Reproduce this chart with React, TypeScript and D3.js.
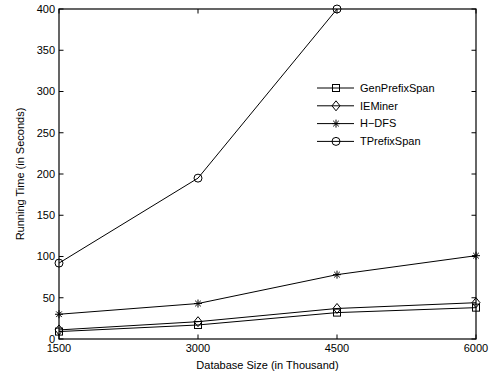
import { useRef, useEffect } from 'react'
import * as d3 from 'd3'

const sizes = [1500, 3000, 4500, 6000]
const genPrefixSpan = [9, 17, 32, 38]
const ieMiner = [11, 21, 37, 44]
const hdfs = [30, 43, 78, 101]
const tPrefixSpan = [92, 195, 400]
const yTicks = [0, 50, 100, 150, 200, 250, 300, 350, 400]

const series = [
  { name: 'GenPrefixSpan', values: genPrefixSpan, marker: 'square' },
  { name: 'IEMiner', values: ieMiner, marker: 'diamond' },
  { name: 'H\u2212DFS', values: hdfs, marker: 'star' },
  { name: 'TPrefixSpan', values: tPrefixSpan, marker: 'circle' },
]

const W = 500
const H = 379
const m = { left: 59, right: 24, top: 9, bottom: 40 }

function drawMarker(g: d3.Selection<SVGGElement, unknown, null, undefined>, kind: string, cx: number, cy: number) {
  const s = g.append('g').attr('transform', `translate(${cx},${cy})`)
    .attr('fill', 'none').attr('stroke', '#000').attr('stroke-width', 1)
  if (kind === 'square') {
    s.append('rect').attr('x', -3.5).attr('y', -3.5).attr('width', 7).attr('height', 7)
  } else if (kind === 'diamond') {
    s.append('path').attr('d', 'M0,-5L4,0L0,5L-4,0Z')
  } else if (kind === 'circle') {
    s.append('circle').attr('r', 4)
  } else {
    const r = 4
    s.append('path').attr('d', `M${-r},0L${r},0M0,${-r}L0,${r}M${-r * 0.7},${-r * 0.7}L${r * 0.7},${r * 0.7}M${-r * 0.7},${r * 0.7}L${r * 0.7},${-r * 0.7}`)
  }
}

export default function App() {
  const svgRef = useRef<SVGSVGElement>(null)

  useEffect(() => {
    const svg = d3.select(svgRef.current)
    svg.selectAll('*').remove()

    const x = d3.scaleLinear().domain([1500, 6000]).range([m.left, W - m.right])
    const y = d3.scaleLinear().domain([0, 400]).range([H - m.bottom, m.top])
    const font = 'Liberation Sans, Arial, sans-serif'
    const g = svg.append('g')

    // ticks, inward on all sides
    const tl = 4.5
    yTicks.forEach(t => {
      g.append('line').attr('x1', x(1500)).attr('x2', x(1500) + tl).attr('y1', y(t)).attr('y2', y(t)).attr('stroke', '#000')
      g.append('line').attr('x1', x(6000)).attr('x2', x(6000) - tl).attr('y1', y(t)).attr('y2', y(t)).attr('stroke', '#000')
      g.append('text').attr('x', x(1500) - 4).attr('y', y(t)).attr('dy', '0.35em')
        .attr('text-anchor', 'end').attr('font-family', font).attr('font-size', 11).text(t)
    })
    sizes.forEach(t => {
      g.append('line').attr('x1', x(t)).attr('x2', x(t)).attr('y1', y(0)).attr('y2', y(0) - tl).attr('stroke', '#000')
      g.append('line').attr('x1', x(t)).attr('x2', x(t)).attr('y1', y(400)).attr('y2', y(400) + tl).attr('stroke', '#000')
      g.append('text').attr('x', x(t)).attr('y', y(0) + 13)
        .attr('text-anchor', 'middle').attr('font-family', font).attr('font-size', 11).text(t)
    })

    // lines and markers
    series.forEach(s => {
      const pts = s.values.map((v, i) => [x(sizes[i]), y(v)] as [number, number])
      g.append('path').attr('d', d3.line()(pts)).attr('fill', 'none').attr('stroke', '#000').attr('stroke-width', 1)
      pts.forEach(p => drawMarker(g, s.marker, p[0], p[1]))
    })

    // box
    g.append('rect').attr('x', x(1500)).attr('y', y(400))
      .attr('width', x(6000) - x(1500)).attr('height', y(0) - y(400))
      .attr('fill', 'none').attr('stroke', '#000').attr('stroke-width', 1.2)

    // axis labels
    g.append('text').attr('x', (x(1500) + x(6000)) / 2).attr('y', H - 10)
      .attr('text-anchor', 'middle').attr('font-family', font).attr('font-size', 11)
      .text('Database Size (in Thousand)')
    g.append('text').attr('transform', `translate(24,${(y(0) + y(400)) / 2}) rotate(-90)`)
      .attr('text-anchor', 'middle').attr('font-family', font).attr('font-size', 11)
      .text('Running Time (in Seconds)')

    // legend
    const lx = 317
    const ly = 88
    const step = 17.8
    series.forEach((s, i) => {
      const yy = ly + i * step
      g.append('line').attr('x1', lx).attr('x2', lx + 37).attr('y1', yy).attr('y2', yy).attr('stroke', '#000')
      drawMarker(g, s.marker, lx + 19, yy)
      g.append('text').attr('x', lx + 43).attr('y', yy).attr('dy', '0.35em')
        .attr('font-family', font).attr('font-size', 11).text(s.name)
    })
  }, [])

  return <svg ref={svgRef} width={W} height={H} style={{ position: 'absolute', left: 0, top: 0, background: '#fff' }} />
}
